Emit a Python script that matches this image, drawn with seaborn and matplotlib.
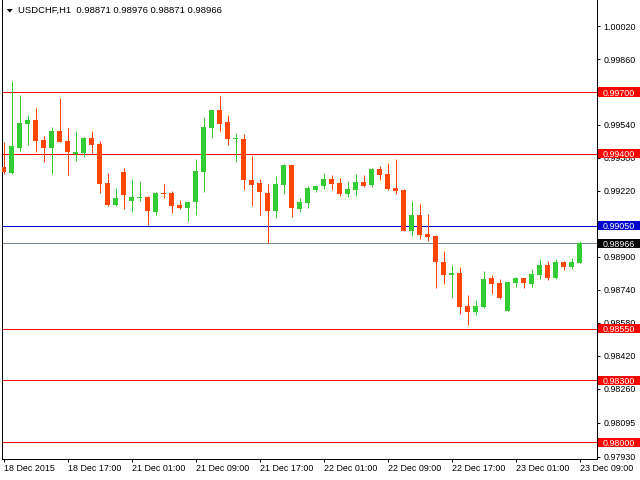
import matplotlib
matplotlib.use("Agg")
import matplotlib.pyplot as plt
import matplotlib.transforms as mtransforms
from matplotlib.patches import Rectangle, Polygon
import numpy as np
import pandas as pd
import seaborn as sns

# ---------------- data ----------------
chart_title = "USDCHF,H1  0.98871 0.98976 0.98871 0.98966"

opens = [0.99336, 0.99308, 0.99430, 0.99545, 0.99564, 0.99467, 0.99430, 0.99511, 0.99462, 0.99399,
         0.99404, 0.99477, 0.99448, 0.99258, 0.99152, 0.99312, 0.99171, 0.99186, 0.99190, 0.99118,
         0.99210, 0.99210, 0.99152, 0.99137, 0.99166, 0.99312, 0.99525, 0.99613, 0.99554, 0.99474,
         0.99472, 0.99273, 0.99258, 0.99210, 0.99122, 0.99249, 0.99346, 0.99132, 0.99161, 0.99224,
         0.99244, 0.99278, 0.99258, 0.99205, 0.99224, 0.99263, 0.99249, 0.99326, 0.99302, 0.99234,
         0.99224, 0.99025, 0.99103, 0.99011, 0.99001, 0.98875, 0.98812, 0.98822, 0.98661, 0.98632,
         0.98657, 0.98797, 0.98773, 0.98637, 0.98773, 0.98797, 0.98768, 0.98812, 0.98860, 0.98797,
         0.98875, 0.98851, 0.98871]
highs = [0.99459, 0.99753, 0.99685, 0.99588, 0.99622, 0.99486, 0.99530, 0.99671, 0.99525, 0.99511,
         0.99482, 0.99511, 0.99462, 0.99307, 0.99234, 0.99331, 0.99278, 0.99268, 0.99195, 0.99215,
         0.99254, 0.99220, 0.99176, 0.99166, 0.99375, 0.99579, 0.99613, 0.99681, 0.99588, 0.99501,
         0.99496, 0.99389, 0.99278, 0.99254, 0.99292, 0.99351, 0.99346, 0.99186, 0.99244, 0.99244,
         0.99307, 0.99297, 0.99283, 0.99268, 0.99302, 0.99297, 0.99331, 0.99341, 0.99355, 0.99375,
         0.99229, 0.99171, 0.99157, 0.99108, 0.99006, 0.98928, 0.98860, 0.98851, 0.98715, 0.98691,
         0.98831, 0.98812, 0.98792, 0.98778, 0.98802, 0.98797, 0.98841, 0.98890, 0.98880, 0.98890,
         0.98880, 0.98894, 0.98976]
lows = [0.99302, 0.99302, 0.99415, 0.99443, 0.99409, 0.99360, 0.99302, 0.99457, 0.99297, 0.99365,
        0.99385, 0.99404, 0.99210, 0.99147, 0.99147, 0.99132, 0.99118, 0.99171, 0.99055, 0.99103,
        0.99186, 0.99113, 0.99132, 0.99074, 0.99103, 0.99215, 0.99477, 0.99511, 0.99443, 0.99360,
        0.99224, 0.99147, 0.99103, 0.98967, 0.99089, 0.99205, 0.99093, 0.99118, 0.99137, 0.99215,
        0.99229, 0.99224, 0.99195, 0.99190, 0.99195, 0.99239, 0.99239, 0.99273, 0.99224, 0.99205,
        0.99025, 0.99001, 0.98987, 0.98977, 0.98749, 0.98768, 0.98700, 0.98623, 0.98569, 0.98618,
        0.98652, 0.98720, 0.98695, 0.98637, 0.98754, 0.98749, 0.98754, 0.98792, 0.98788, 0.98792,
        0.98836, 0.98841, 0.98871]
closes = [0.99313, 0.99438, 0.99550, 0.99564, 0.99464, 0.99430, 0.99511, 0.99459, 0.99410, 0.99409,
          0.99477, 0.99443, 0.99254, 0.99152, 0.99186, 0.99200, 0.99190, 0.99190, 0.99122, 0.99210,
          0.99205, 0.99147, 0.99137, 0.99166, 0.99317, 0.99530, 0.99613, 0.99545, 0.99472, 0.99477,
          0.99273, 0.99249, 0.99215, 0.99122, 0.99254, 0.99346, 0.99137, 0.99166, 0.99234, 0.99244,
          0.99278, 0.99254, 0.99205, 0.99229, 0.99263, 0.99244, 0.99326, 0.99297, 0.99229, 0.99220,
          0.99025, 0.99103, 0.99006, 0.98996, 0.98875, 0.98812, 0.98822, 0.98657, 0.98632, 0.98661,
          0.98792, 0.98768, 0.98700, 0.98778, 0.98797, 0.98773, 0.98817, 0.98860, 0.98797, 0.98875,
          0.98851, 0.98875, 0.98966]

x_tick_labels = ["18 Dec 2015", "18 Dec 17:00", "21 Dec 01:00", "21 Dec 09:00", "21 Dec 17:00",
                 "22 Dec 01:00", "22 Dec 09:00", "22 Dec 17:00", "23 Dec 01:00", "23 Dec 09:00"]
y_ticks = [1.00020, 0.99860, 0.99700, 0.99540, 0.99380, 0.99220, 0.99060, 0.98900,
           0.98740, 0.98580, 0.98420, 0.98260, 0.98095, 0.97930]
# tick labels fully hidden behind price boxes in the reference
y_hidden_labels = [0.99700, 0.99060]

level_values = [0.99700, 0.99400, 0.99050, 0.98550, 0.98300, 0.98000]
level_colors = ["#FF0000", "#FF0000", "#0000CD", "#FF0000", "#FF0000", "#FF0000"]
bid_price = 0.98966

# ---------------- style ----------------
sns.set_theme(style="white")
plt.rcParams["font.family"] = ["Liberation Sans", "DejaVu Sans"]
FS = 6.4
BULL = "#32CD32"
BEAR = "#FF4500"
PX = 0.72  # one pixel in points at 100 dpi

df = pd.DataFrame({"open": opens, "high": highs, "low": lows, "close": closes})
df["bar"] = np.arange(len(df))
df["bull"] = df["close"] > df["open"]
df["color"] = np.where(df["bull"], BULL, BEAR)
df["body_lo"] = df[["open", "close"]].min(axis=1)
df["body_h"] = np.maximum((df["close"] - df["open"]).abs(), 0.00005)

fig = plt.figure(figsize=(6.4, 4.8), dpi=100)
W, H = 640.0, 480.0
ax_left, ax_right, ax_top, ax_bottom = 2.0, 597.0, 0.0, 458.7
ax = fig.add_axes([ax_left / W, (H - ax_bottom) / H, (ax_right - ax_left) / W, (ax_bottom - ax_top) / H])
ax.set_facecolor("white")

# pixel geometry: bar i centred at 3.5 + 8 i px, price scale 20606 px per unit
bar_px, first_px = 8.0, 3.5
ppu = 20606.0
ax.set_xlim((ax_left - first_px) / bar_px, (ax_right - first_px) / bar_px)
y_top = 0.99700 + (92.0 - ax_top) / ppu
y_bot = 0.99700 - (ax_bottom - 92.0) / ppu
ax.set_ylim(y_bot, y_top)

# level lines
for v, c in zip(level_values, level_colors):
    ax.axhline(v, color=c, lw=PX, zorder=1.5)
ax.axhline(bid_price, color="#778899", lw=PX, zorder=1.5)

# candles
ax.vlines(df["bar"], df["low"], df["high"], colors=df["color"], lw=PX, zorder=3)
ax.bar(df["bar"], df["body_h"], bottom=df["body_lo"], width=5.0 / bar_px,
       color=df["color"], edgecolor="none", linewidth=0, zorder=4)

# spines
sns.despine(ax=ax, top=True, right=False, left=False, bottom=False)
for s in ["left", "right", "bottom"]:
    ax.spines[s].set_color("black")
    ax.spines[s].set_linewidth(PX)

# y axis on right
ax.yaxis.tick_right()
ax.set_yticks(y_ticks)
ax.set_yticklabels(["" if t in y_hidden_labels else f"{t:.5f}" for t in y_ticks])
ax.tick_params(axis="y", which="both", right=True, left=False, direction="out",
               length=2.2, width=PX, pad=2.6, labelsize=FS, colors="black")

# x axis
ax.set_xticks(np.arange(0, len(df), 8))
ax.set_xticklabels(x_tick_labels)
ax.tick_params(axis="x", which="both", bottom=True, direction="out",
               length=2.2, width=PX, pad=1.5, labelsize=FS, colors="black")
for lbl in ax.get_xticklabels():
    lbl.set_horizontalalignment("left")
ax.grid(False)

# right-hand price boxes
blend = mtransforms.blended_transform_factory(ax.transAxes, ax.transData)
box_x0 = (598.0 - ax_left) / (ax_right - ax_left)
box_w = (645.0 - 598.0) / (ax_right - ax_left)
txt_x = (603.0 - ax_left) / (ax_right - ax_left)
box_h = 9.0 / ppu
for v, c in list(zip(level_values, level_colors)) + [(bid_price, "#000000")]:
    ax.add_patch(Rectangle((box_x0, v - box_h / 2), box_w, box_h, transform=blend,
                           facecolor=c, edgecolor="none", clip_on=False, zorder=10))
    ax.text(txt_x, v, f"{v:.5f}", transform=blend, color="white", fontsize=FS,
            ha="left", va="center_baseline", clip_on=False, zorder=11)

# title with small triangle
fig.text(18.0 / W, 1 - 10.7 / H, chart_title, fontsize=6.8, color="black", ha="left", va="center")
fig.add_artist(Polygon([(6.7 / W, 1 - 9.0 / H), (12.7 / W, 1 - 9.0 / H), (9.7 / W, 1 - 12.5 / H)],
                       closed=True, transform=fig.transFigure, facecolor="black", edgecolor="none"))

fig.savefig("out.png", dpi=100, facecolor="white")
